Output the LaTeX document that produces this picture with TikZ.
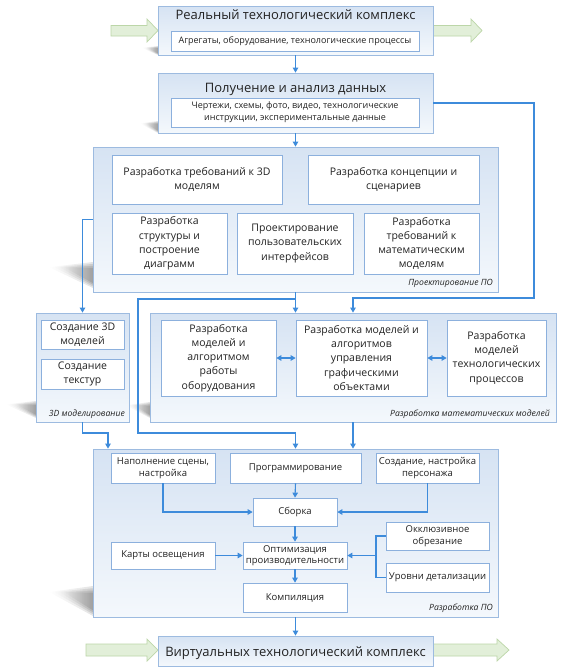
\documentclass[tikz,border=0pt]{standalone}
\usepackage{fontspec}
\setmainfont{Open Sans}
\usetikzlibrary{arrows.meta,fadings,calc}
\definecolor{obord}{HTML}{9DBBE0}
\definecolor{otop}{HTML}{D6E3F3}
\definecolor{obot}{HTML}{F4F8FC}
\definecolor{ibord}{HTML}{8CB0DD}
\definecolor{cblue}{HTML}{3D8BDB}
\definecolor{gfill}{HTML}{E2EFD9}
\definecolor{gbord}{HTML}{BCD6A8}
\definecolor{txt}{HTML}{222222}
\newcommand\bx[7]{\node[#6, minimum width={(#4-#2)*1pt}, minimum height={(#5-#3)*1pt}] (#1) at ({(#2+#4)/2},{(#3+#5)/2}) {#7};}
\newcommand\shd[4]{\foreach \k in {0,0.25,0.5,0.75}{\fill[black, opacity=0.11, path fading=west] (#1,{#2-\k*#4*0.25}) -- (#1,{#2-#4+\k*#4*0.3}) -- ({#1-#3*(1-\k*0.45)},{#2-0.8*#4}) -- cycle;}}
\tikzset{
  outer/.style={draw=obord, top color=otop, bottom color=obot, line width=0.8pt, inner sep=0pt},
  inner/.style={draw=ibord, fill=white, line width=0.7pt, inner sep=0pt, align=center, text=txt},
  fsm/.style={font=\fontsize{9}{12}\selectfont},
  fmd/.style={font=\fontsize{10.5}{14.2}\selectfont},
  fdv/.style={font=\fontsize{9.5}{11.5}\selectfont},
  ttl/.style={font=\fontsize{13}{15}\selectfont, text=txt, anchor=base, inner sep=0pt},
  lbl/.style={font=\fontsize{8.6}{10}\selectfont\itshape, text=txt, anchor=base east, inner sep=0pt},
  conn/.style={draw=cblue, line width=1.1pt},
  arr/.style={conn, -{Triangle[length=5pt,width=5.5pt]}},
  darr/.style={conn, {Triangle[length=5pt,width=5.5pt]}-{Triangle[length=5pt,width=5.5pt]}},
  garr/.style={draw=gbord, fill=gfill, line width=0.7pt},
}
\begin{document}
\begin{tikzpicture}[x=1pt,y=-1pt]
\useasboundingbox (0,0) rectangle (562,672);
\fill[white] (0,0) rectangle (562,672);
% shadows
\shd{158}{55}{16}{9}
\shd{158}{133}{18}{12}
\shd{93}{288}{44}{26}
\shd{36}{418}{30}{17}
\shd{150}{418}{24}{16}
\shd{93}{616}{44}{30}
% green arrows
\draw[garr] (111,25.5) -- (147,25.5) -- (147,19) -- (158,30.5) -- (147,42) -- (147,36) -- (111,36) -- cycle;
\draw[garr] (433,25.5) -- (471,25.5) -- (471,19) -- (482,30.5) -- (471,42) -- (471,36) -- (433,36) -- cycle;
\draw[garr] (86,644) -- (147,644) -- (147,639) -- (158,650) -- (147,661) -- (147,656) -- (86,656) -- cycle;
\draw[garr] (433,644) -- (497,644) -- (497,639) -- (509,650) -- (497,661) -- (497,656) -- (433,656) -- cycle;
% top boxes
\bx{real}{158}{6}{433}{55}{outer}{}
\node[ttl] (realt) at (295.5,19.5) {Реальный технологический комплекс};
\bx{reali}{171}{31}{419}{51}{inner,fsm}{Агрегаты, оборудование, технологические процессы}
\bx{data}{158}{73}{433}{133}{outer}{}
\node[ttl] (datat) at (295.5,92) {Получение и анализ данных};
\bx{datai}{171}{98}{419}{127}{inner,fsm}{Чертежи, схемы, фото, видео, технологические\\инструкции, экспериментальные данные}
% design
\bx{proj}{93}{147}{498}{292}{outer}{}
\bx{pa}{112}{155}{282}{204}{inner,fmd}{Разработка требований к 3D\\моделям}
\bx{pb}{308}{155}{479}{204}{inner,fmd}{Разработка концепции и\\сценариев}
\bx{pc}{112}{213}{227}{274}{inner,fmd}{Разработка\\структуры и\\построение\\диаграмм}
\bx{pd}{237}{213}{353}{274}{inner,fmd}{Проектирование\\пользовательских\\интерфейсов}
\bx{pe}{364}{213}{479}{274}{inner,fmd}{Разработка\\требований к\\математическим\\моделям}
\node[lbl] (projl) at (493,285) {Проектирование ПО};
% 3D
\bx{m3d}{36}{313}{129}{422}{outer}{}
\bx{ma3}{41}{320}{124}{349}{inner,fmd}{Создание 3D\\моделей}
\bx{mb3}{41}{359}{124}{389}{inner,fmd}{Создание\\текстур}
\node[lbl] (m3dl) at (125,416) {3D моделирование};
% math
\bx{math}{150}{313}{556}{422}{outer}{}
\bx{ma}{161}{320}{276}{396}{inner,fmd}{Разработка\\моделей и\\алгоритмом\\работы\\оборудования}
\bx{mb}{296}{320}{427}{396}{inner,fmd}{Разработка моделей и\\алгоритмов\\управления\\графическими\\объектами}
\bx{mc}{447}{320}{546}{396}{inner,fmd}{Разработка\\моделей\\технологических\\процессов}
\node[lbl] (mathl) at (550,416) {Разработка математических моделей};
% development
\bx{dev}{93}{449}{498}{617}{outer}{}
\bx{nap}{111}{453}{215}{483}{inner,fdv}{Наполнение сцены,\\настройка}
\bx{prog}{230}{453}{361}{483}{inner,fdv}{Программирование}
\bx{pers}{376}{453}{479}{483}{inner,fdv}{Создание, настройка\\персонажа}
\bx{sb}{253}{498}{337}{526}{inner,fdv}{Сборка}
\bx{okk}{386}{522}{489}{550}{inner,fdv}{Окклюзивное\\обрезание}
\bx{kart}{111}{542}{215}{569}{inner,fdv}{Карты освещения}
\bx{opt}{243}{542}{347}{569}{inner,fdv}{Оптимизация\\производительности}
\bx{urov}{386}{563}{489}{592}{inner,fdv}{Уровни детализации}
\bx{komp}{243}{583}{347}{612}{inner,fdv}{Компиляция}
\node[lbl] (devl) at (493,610) {Разработка ПО};
% virtual
\bx{virt}{158}{636}{433}{666}{outer}{}
\node[ttl] (virtt) at (295.5,656) {Виртуальных технологический комплекс};
% connectors
\draw[arr] (real.south) -- (data.north);
\draw[arr] (data.south) -- (proj.north);
\coordinate (r1) at (534,103);
\coordinate (r2) at (534,298);
\draw[arr] (data.east) -- (r1) -- (r2) -- (r2 -| math.north) -- (math.north);
\draw[arr] (proj.south) -- (proj.south |- math.north);
\coordinate (b1) at (295.5,299);
\coordinate (b2) at (138,299);
\coordinate (b3) at (138,433);
\draw[arr] (b1) -- (b2) -- (b3) -- (b3 -| dev.north) -- (dev.north);
\draw[arr] (proj.west) -- (proj.west -| m3d.north) -- (m3d.north);
\coordinate (c1) at (108,433);
\draw[arr] (m3d.south) -- (m3d.south |- c1) -- (c1) -- (c1 |- dev.north);
\draw[arr] (math.south) -- (math.south |- dev.north);
\draw[darr] (ma.east) -- (mb.west);
\draw[darr] (mb.east) -- (mc.west);
\draw[arr] (prog.south) -- (sb.north);
\draw[arr] (nap.south) |- (sb.west);
\draw[arr] (pers.south) |- (sb.east);
\draw[arr] (sb.south) -- (opt.north);
\draw[arr] (kart.east) -- (opt.west);
\coordinate (k1) at (376,555.5);
\draw[conn] (okk.west) -| (k1) |- (urov.west);
\draw[arr] (k1) -- (opt.east);
\draw[arr] (opt.south) -- (komp.north);
\draw[arr] (dev.south) -- (virt.north);
\end{tikzpicture}
\end{document}
